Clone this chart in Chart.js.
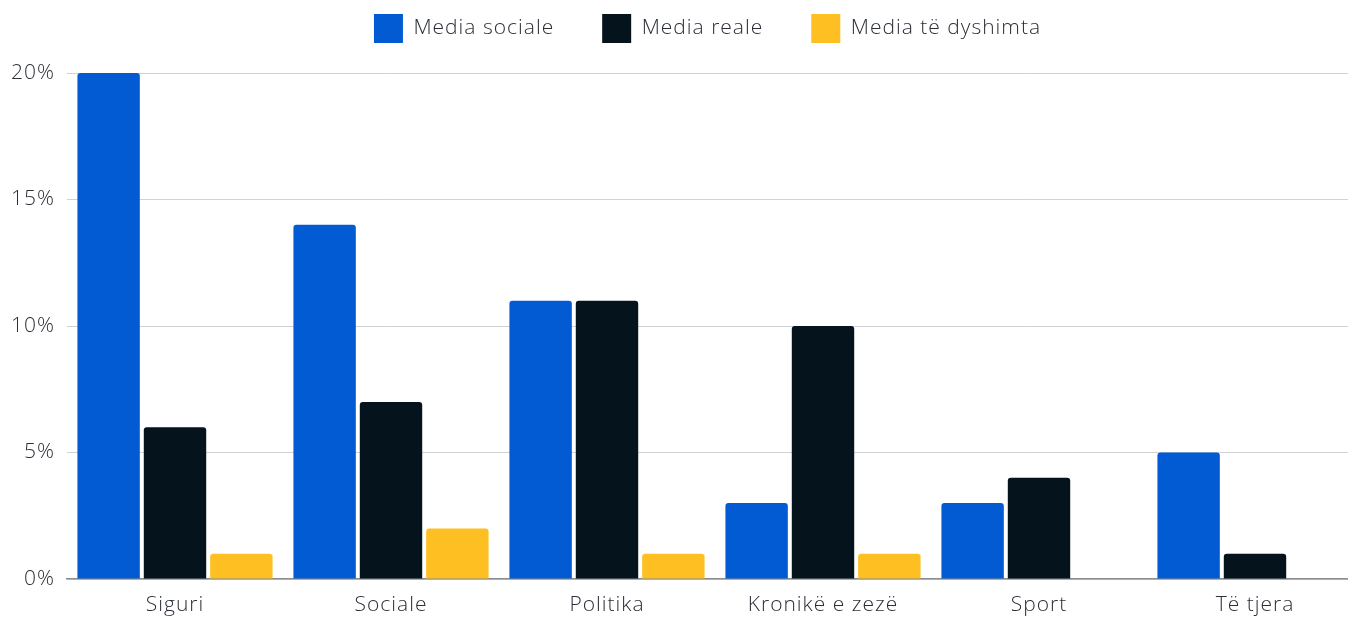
<!DOCTYPE html>
<html>
<head>
<meta charset="utf-8">
<script src="https://cdn.jsdelivr.net/npm/chart.js"></script>
<style>
  html, body { margin: 0; padding: 0; background: #fff; }
  #wrap { width: 1348px; height: 619px; }
</style>
</head>
<body>
<div id="wrap"><canvas id="chart"></canvas></div>
<script>
// categories and values (percent)
const categories = ["Siguri", "Sociale", "Politika", "Kronikë e zezë", "Sport", "Të tjera"];
const socialMedia = [20, 14, 11, 3, 3, 5];
const realMedia = [6, 7, 11, 10, 4, 1];
const doubtfulMedia = [1, 2, 1, 1, 0, 0];
const yTicks = [0, 5, 10, 15, 20];

Chart.defaults.font.family = "'Open Sans', sans-serif";
Chart.defaults.font.weight = 300;
Chart.defaults.color = "#2b2f36";

const barStyle = {
    borderRadius: { topLeft: 3, topRight: 3 },
    borderSkipped: 'bottom',
    categoryPercentage: 0.922,
    barPercentage: 0.94
};

// wider lettering, fixed legend height, legend centered over the plot area,
// plot area running a little past the right edge like the original
const tweaks = {
    id: 'tweaks',
    beforeInit(chart) {
        const fit = chart.legend.fit;
        chart.legend.fit = function () {
            fit.bind(chart.legend)();
            this.height = 107;
        };
    },
    beforeUpdate(chart) { chart.ctx.letterSpacing = '1px'; },
    beforeLayout(chart) { chart.ctx.letterSpacing = '1px'; },
    beforeDraw(chart) { chart.ctx.letterSpacing = '1px'; },
    afterLayout(chart) {
        const right = 1363;
        const x = chart.scales.x;
        x.right = right;
        x.width = right - x.left;
        x.configure();
        chart.chartArea.right = right;
        chart.chartArea.width = right - chart.chartArea.left;
        chart.legend.left = chart.chartArea.left;
        chart.legend.right = 1348;
    }
};

var ctx = document.getElementById("chart");
var chart = new Chart(ctx, {
    type: 'bar',
    data: {
        labels: categories,
        datasets: [
            Object.assign({ label: 'Media sociale', data: socialMedia, backgroundColor: '#025bd3' }, barStyle),
            Object.assign({ label: 'Media reale', data: realMedia, backgroundColor: '#04131c' }, barStyle),
            Object.assign({ label: 'Media të dyshimta', data: doubtfulMedia, backgroundColor: '#fdbf22' }, barStyle)
        ]
    },
    options: {
        responsive: true,
        maintainAspectRatio: false,
        animation: false,
        layout: { padding: { top: -34, right: 0, bottom: 0, left: 0 } },
        plugins: {
            tooltip: { enabled: false },
            legend: {
                position: 'top',
                labels: {
                    boxWidth: 29,
                    boxHeight: 29,
                    padding: 48,
                    font: { size: 21 }
                }
            }
        },
        scales: {
            x: {
                afterFit: axis => { axis.height = 40; },
                grid: { display: false, drawTicks: false },
                border: { display: true, color: '#8a8d91', width: 1.5 },
                ticks: { padding: 13, font: { size: 21 } }
            },
            y: {
                min: 0,
                max: 20,
                afterBuildTicks: axis => { axis.ticks = yTicks.map(v => ({ value: v })); },
                afterFit: axis => { axis.width = 67; },
                grid: { color: '#cfd2d6', drawTicks: false },
                border: { display: false },
                ticks: {
                    padding: 12,
                    font: { size: 21 },
                    callback: v => v + '%'
                }
            }
        }
    },
    plugins: [tweaks]
});
</script>
</body>
</html>
